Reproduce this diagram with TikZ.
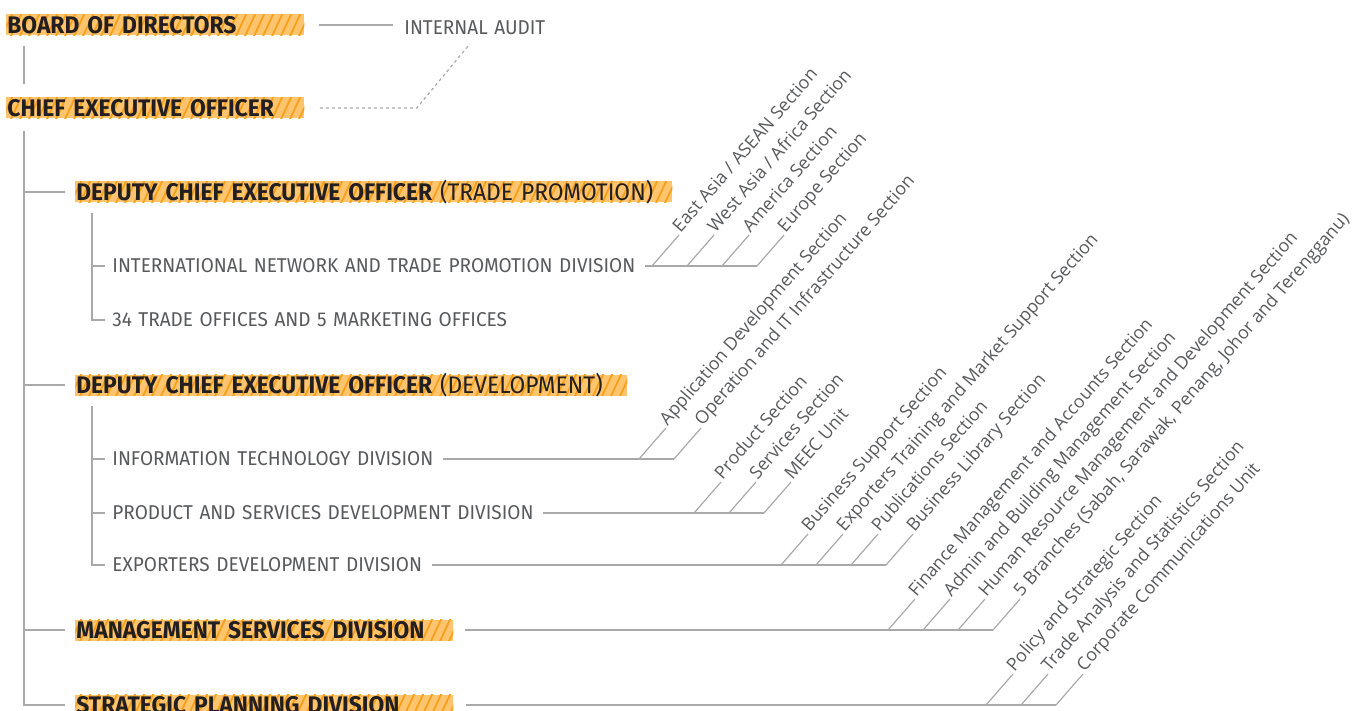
\documentclass[tikz,border=0pt]{standalone}
\usepackage{fontspec}
\setmainfont{Fira Sans}[FakeStretch=0.95, WordSpace=1.3]
\newfontfamily\sectfont{Open Sans}
\usetikzlibrary{calc}

\definecolor{hlfill}{HTML}{FFC56E}
\definecolor{hlstripe}{HTML}{F7A01A}
\definecolor{linkgray}{HTML}{A9A9A9}
\definecolor{inkdark}{HTML}{231F20}
\definecolor{inkgray}{HTML}{58595B}

\tikzset{
  link/.style={draw=linkgray, line width=0.6pt},
  hatchbox/.style={fill=hlfill, anchor=west, inner xsep=0.5pt, inner ysep=0pt,
    text height=9.5pt, text depth=1pt, align=left, text=inkdark,
    font=\fontsize{12}{12}\selectfont\bfseries,
    path picture={
      \foreach \k in {0,...,75}
        \draw[hlstripe, line width=0.9pt]
          ($(path picture bounding box.south west)+(\k*9-14,2)$) -- ++(12,-26);
    }},
  unit/.style={anchor=west, inner sep=0pt, text height=6.5pt, text depth=0pt,
    text=inkgray, font=\fontsize{10}{10}\selectfont},
  sect/.style={anchor=base west, rotate=49, inner sep=1pt, text=inkgray,
    font=\sectfont\fontsize{8.9}{8.9}\selectfont},
}

\begin{document}
\begin{tikzpicture}[x=0.5pt, y=-0.5pt]
                \useasboundingbox (0,0) rectangle (1358,711);

                \node[hatchbox, text width=148pt] (bod) at (6,25) {BOARD OF DIRECTORS};
                \node[unit] (audit) at (404,28) {INTERNAL AUDIT};
                \node[hatchbox, text width=148pt] (ceo) at (6,108) {CHIEF EXECUTIVE OFFICER};
                \node[hatchbox, text width=297.5pt] (dtp) at (75,192) {DEPUTY CHIEF EXECUTIVE OFFICER\hspace{4pt}\mdseries(TRADE PROMOTION)};
                \node[unit] (intl) at (112,266) {INTERNATIONAL NETWORK AND TRADE PROMOTION DIVISION};
                \node[unit] (tro) at (112,320) {34 TRADE OFFICES AND 5 MARKETING OFFICES};
                \node[hatchbox, text width=275pt] (ddev) at (75,385) {DEPUTY CHIEF EXECUTIVE OFFICER\hspace{4pt}\mdseries(DEVELOPMENT)};
                \node[unit] (itd) at (112,459) {INFORMATION TECHNOLOGY DIVISION};
                \node[unit] (psd) at (112,513) {PRODUCT AND SERVICES DEVELOPMENT DIVISION};
                \node[unit] (exd) at (112,565) {EXPORTERS DEVELOPMENT DIVISION};
                \node[hatchbox, text width=188pt] (msd) at (75,630) {MANAGEMENT SERVICES DIVISION};
                \node[hatchbox, text width=188pt] (spd) at (75,705) {STRATEGIC PLANNING DIVISION};

                % sections
                \node[sect] (eas) at (679,235) {East Asia / ASEAN Section};
                \node[sect] (waf) at (714,235) {West Asia / Africa Section};
                \node[sect] (ams) at (749,235) {America Section};
                \node[sect] (eus) at (784,235) {Europe Section};
                \node[sect] (ads) at (666,428) {Application Development Section};
                \node[sect] (oit) at (701,428) {Operation and IT Infrastructure Section};
                \node[sect] (prs) at (721,482) {Product Section};
                \node[sect] (svs) at (756,482) {Services Section};
                \node[sect] (meu) at (791,482) {MEEC Unit};
                \node[sect] (bss) at (808,534) {Business Support Section};
                \node[sect] (etm) at (843,534) {Exporters Training and Market Support Section};
                \node[sect] (pbs) at (878,534) {Publications Section};
                \node[sect] (bls) at (913,534) {Business Library Section};
                \node[sect] (fma) at (915,599) {Finance Management and Accounts Section};
                \node[sect] (abm) at (950,599) {Admin and Building Management Section};
                \node[sect] (hrm) at (985,599) {Human Resource Management and Development Section};
                \node[sect] (brs) at (1020,599) {5 Branches (Sabah, Sarawak, Penang, Johor and Terengganu)};
                \node[sect] (pss) at (1013,674) {Policy and Strategic Section};
                \node[sect] (tas) at (1048,674) {Trade Analysis and Statistics Section};
                \node[sect] (ccu) at (1083,674) {Corporate Communications Unit};

                \coordinate (t0) at ($(ceo.south west)+(18,12)$);
                \coordinate (s1) at ($(dtp.south west)+(17,10)$);
                \coordinate (s2) at ($(ddev.south west)+(17,10)$);
                \coordinate (ak) at ($(ceo.east)+(112,0)$);
                \coordinate (intl1) at (652,266); \coordinate (intl2) at (687,266); \coordinate (intl3) at (722,266); \coordinate (intl4) at (757,266);
                \coordinate (itd1) at (639,459); \coordinate (itd2) at (674,459);
                \coordinate (psd1) at (694,513); \coordinate (psd2) at (729,513); \coordinate (psd3) at (764,513);
                \coordinate (exd1) at (781,565); \coordinate (exd2) at (816,565); \coordinate (exd3) at (851,565); \coordinate (exd4) at (886,565);
                \coordinate (msd1) at (888,630); \coordinate (msd2) at (923,630); \coordinate (msd3) at (958,630); \coordinate (msd4) at (993,630);
                \coordinate (spd1) at (986,705); \coordinate (spd2) at (1021,705); \coordinate (spd3) at (1056,705);

                \draw[link] ($(bod.south west)+(18,10)$) -- ($(ceo.north west)+(18,-13)$);
                \draw[link] ([xshift=7pt]bod.east) -- ($(audit.west |- bod.east)+(-11,0)$);
                \draw[link, dash pattern=on 1.5pt off 1.5pt] ([xshift=7.5pt]ceo.east) -- (ak) -- ($(audit.south)+(-5,9)$);

                \draw[link] (t0) |- ([xshift=-5pt]spd.west);
                \draw[link] (t0 |- dtp.west) -- ([xshift=-5pt]dtp.west);
                \draw[link] (t0 |- ddev.west) -- ([xshift=-5pt]ddev.west);
                \draw[link] (t0 |- msd.west) -- ([xshift=-5pt]msd.west);

                \draw[link] (s1) |- ([xshift=-3.5pt]tro.west);
                \draw[link] (s1 |- intl.west) -- ([xshift=-3.5pt]intl.west);
                \draw[link] (s2) |- ([xshift=-3.5pt]exd.west);
                \draw[link] (s2 |- itd.west) -- ([xshift=-3.5pt]itd.west);
                \draw[link] (s2 |- psd.west) -- ([xshift=-3.5pt]psd.west);

                \draw[link] ([xshift=4.5pt]intl.east) -- (intl4);
                \draw[link] (intl1) -- (eas.base west);
                \draw[link] (intl2) -- (waf.base west);
                \draw[link] (intl3) -- (ams.base west);
                \draw[link] (intl4) -- (eus.base west);

                \draw[link] ([xshift=4.5pt]itd.east) -- (itd2);
                \draw[link] (itd1) -- (ads.base west);
                \draw[link] (itd2) -- (oit.base west);

                \draw[link] ([xshift=4.5pt]psd.east) -- (psd3);
                \draw[link] (psd1) -- (prs.base west);
                \draw[link] (psd2) -- (svs.base west);
                \draw[link] (psd3) -- (meu.base west);

                \draw[link] ([xshift=4.5pt]exd.east) -- (exd4);
                \draw[link] (exd1) -- (bss.base west);
                \draw[link] (exd2) -- (etm.base west);
                \draw[link] (exd3) -- (pbs.base west);
                \draw[link] (exd4) -- (bls.base west);

                \draw[link] ([xshift=5.5pt]msd.east) -- (msd4);
                \draw[link] (msd1) -- (fma.base west);
                \draw[link] (msd2) -- (abm.base west);
                \draw[link] (msd3) -- (hrm.base west);
                \draw[link] (msd4) -- (brs.base west);

                \draw[link] ([xshift=6pt]spd.east) -- (spd3);
                \draw[link] (spd1) -- (pss.base west);
                \draw[link] (spd2) -- (tas.base west);
                \draw[link] (spd3) -- (ccu.base west);
\end{tikzpicture}
\end{document}
